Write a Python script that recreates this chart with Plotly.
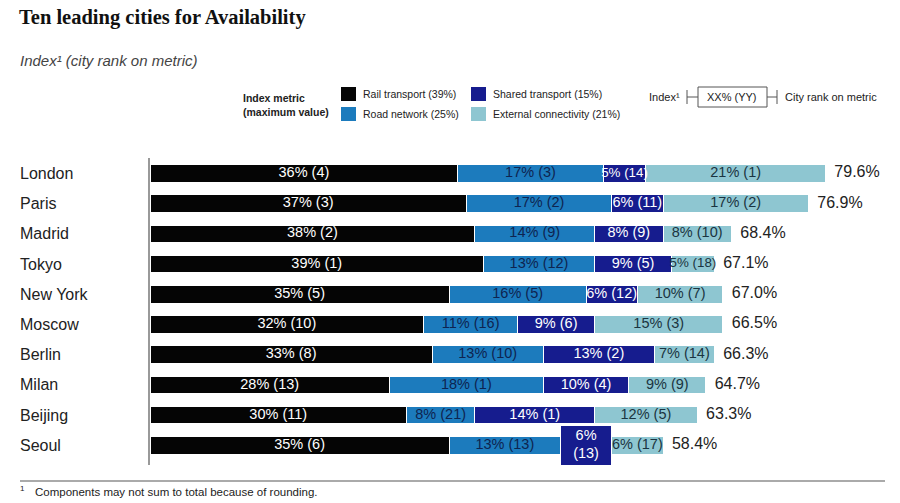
import plotly.graph_objects as go

# ---------------- data ----------------
cities = ["London", "Paris", "Madrid", "Tokyo", "New York", "Moscow",
          "Berlin", "Milan", "Beijing", "Seoul"]
rail = [36, 37, 38, 39, 35, 32, 33, 28, 30, 35]
rail_rank = [4, 3, 2, 1, 5, 10, 8, 13, 11, 6]
road = [17, 17, 14, 13, 16, 11, 13, 18, 8, 13]
road_rank = [3, 2, 9, 12, 5, 16, 10, 1, 21, 13]
shared = [5, 6, 8, 9, 6, 9, 13, 10, 14, 6]
shared_rank = [14, 11, 9, 5, 12, 6, 2, 4, 1, 13]
external = [21, 17, 8, 5, 10, 15, 7, 9, 12, 6]
external_rank = [1, 2, 10, 18, 7, 3, 14, 9, 5, 17]
totals = [79.6, 76.9, 68.4, 67.1, 67.0, 66.5, 66.3, 64.7, 63.3, 58.4]

metric_names = ["Rail transport (39%)", "Road network (25%)",
                "Shared transport (15%)", "External connectivity (21%)"]
wrapped_cells = [("Seoul", "shared")]  # label wraps onto two lines

# ---------------- style ----------------
C_RAIL = "#050505"
C_ROAD = "#1c7bbd"
C_SHARED = "#161c8e"
C_EXT = "#8ec6d1"
FONT = "Liberation Sans, Arial, sans-serif"
LABEL_SIZE = 14.5

W_PX, H_PX = 900, 503
L, T, R, B = 150, 158, 0, 38
PW, PH = W_PX - L - R, H_PX - T - B
PX_PER_UNIT = 8.55

CHAR_EM = {"%": 0.889, " ": 0.278, "(": 0.333, ")": 0.333}


def px(x):
    return (x - L) / PW


def py(y):
    return (T + PH - y) / PH


def labels(vals, ranks, key):
    out = []
    for c, v, r in zip(cities, vals, ranks):
        sep = "<br>" if (c, key) in wrapped_cells else " "
        out.append(f"{v}%{sep}({r})")
    return out


def fit_size(label, seg_units):
    line = max(label.split("<br>"), key=len)
    em = sum(CHAR_EM.get(ch, 0.556) for ch in line)
    return min(LABEL_SIZE, (seg_units * PX_PER_UNIT + 4) / em)


fig = go.Figure()

series = [
    ("rail", rail, rail_rank, C_RAIL, "white"),
    ("road", road, road_rank, C_ROAD, "#0e2450"),
    ("shared", shared, shared_rank, C_SHARED, "white"),
    ("external", external, external_rank, C_EXT, "#1a3440"),
]

# bars
for key, vals, ranks, col, tcol in series:
    widths = [1.3 if (c, key) in wrapped_cells else 0.58 for c in cities]
    fig.add_trace(go.Bar(
        y=cities, x=vals, orientation="h", name=key,
        marker=dict(color=col, line=dict(color="white", width=1)),
        width=widths, hoverinfo="skip", showlegend=False,
    ))

# segment labels drawn on top of all bars (centred in each segment)
base = [0] * len(cities)
for key, vals, ranks, col, tcol in series:
    mids = [b + v / 2 for b, v in zip(base, vals)]
    txt = labels(vals, ranks, key)
    sizes = [fit_size(t, v) for t, v in zip(txt, vals)]
    fig.add_trace(go.Scatter(
        y=cities, x=mids, mode="text", text=txt,
        textposition="middle center",
        textfont=dict(family=FONT, size=sizes, color=tcol),
        cliponaxis=False, hoverinfo="skip", showlegend=False,
    ))
    base = [b + v for b, v in zip(base, vals)]

# totals at the end of each bar
fig.add_trace(go.Scatter(
    y=cities, x=base, mode="text",
    text=[f"  {t:.1f}%" for t in totals], textposition="middle right",
    textfont=dict(family=FONT, size=16, color="#222"),
    cliponaxis=False, showlegend=False, hoverinfo="skip",
))

ann = []
shapes = []

# city names (left aligned)
for c in cities:
    ann.append(dict(x=px(18), xref="paper", y=c, yref="y", text=c,
                    xanchor="left", yanchor="middle", showarrow=False,
                    font=dict(family=FONT, size=16, color="#222")))

# title & subtitle
ann.append(dict(x=px(17), y=py(17), xref="paper", yref="paper",
                text="<b>Ten leading cities for Availability</b>",
                xanchor="left", yanchor="middle", showarrow=False,
                font=dict(family="Liberation Serif, serif", size=20.5, color="#111")))
ann.append(dict(x=px(18), y=py(60), xref="paper", yref="paper",
                text="<i>Index¹ (city rank on metric)</i>",
                xanchor="left", yanchor="middle", showarrow=False,
                font=dict(family=FONT, size=15, color="#444")))

# legend
ann.append(dict(x=px(241), y=py(105), xref="paper", yref="paper",
                text="<b>Index metric<br>(maximum value)</b>", align="left",
                xanchor="left", yanchor="middle", showarrow=False,
                font=dict(family=FONT, size=10.5, color="#222")))
leg_pos = [(341, 94), (341, 114), (471, 94), (471, 114)]
leg_cols = [C_RAIL, C_ROAD, C_SHARED, C_EXT]
for (lx, ly), col, name in zip(leg_pos, leg_cols, metric_names):
    shapes.append(dict(type="rect", xref="paper", yref="paper",
                       x0=px(lx), x1=px(lx + 15), y0=py(ly + 7), y1=py(ly - 7),
                       fillcolor=col, line=dict(width=0)))
    ann.append(dict(x=px(lx + 20), y=py(ly), xref="paper", yref="paper",
                    text=name, xanchor="left", yanchor="middle", showarrow=False,
                    font=dict(family=FONT, size=10.5, color="#222")))

# key: Index |-[XX% (YY)]-| City rank on metric
ann.append(dict(x=px(682), y=py(97), xref="paper", yref="paper",
                text="Index¹", xanchor="right", yanchor="middle", showarrow=False,
                font=dict(family=FONT, size=11, color="#222")))
ann.append(dict(x=px(732), y=py(97), xref="paper", yref="paper",
                text="XX% (YY)", xanchor="center", yanchor="middle", showarrow=False,
                font=dict(family=FONT, size=11, color="#222")))
ann.append(dict(x=px(783), y=py(97), xref="paper", yref="paper",
                text="City rank on metric", xanchor="left", yanchor="middle",
                showarrow=False, font=dict(family=FONT, size=11, color="#222")))
kl = dict(color="#555", width=1)
shapes += [
    dict(type="line", xref="paper", yref="paper", x0=px(687), x1=px(687),
         y0=py(90), y1=py(104), line=kl),
    dict(type="line", xref="paper", yref="paper", x0=px(687), x1=px(698),
         y0=py(97), y1=py(97), line=kl),
    dict(type="rect", xref="paper", yref="paper", x0=px(698), x1=px(767),
         y0=py(107), y1=py(87), line=kl, fillcolor="white"),
    dict(type="line", xref="paper", yref="paper", x0=px(767), x1=px(777),
         y0=py(97), y1=py(97), line=kl),
    dict(type="line", xref="paper", yref="paper", x0=px(777), x1=px(777),
         y0=py(90), y1=py(104), line=kl),
]

# footnote
shapes.append(dict(type="line", xref="paper", yref="paper", x0=px(20), x1=px(885),
                   y0=py(481), y1=py(481), line=dict(color="#aaa", width=2)))
ann.append(dict(x=px(18), y=py(488), xref="paper", yref="paper",
                text="1", xanchor="left", yanchor="middle", showarrow=False,
                font=dict(family=FONT, size=8, color="#222")))
ann.append(dict(x=px(33), y=py(492), xref="paper", yref="paper",
                text="Components may not sum to total because of rounding.",
                xanchor="left", yanchor="middle", showarrow=False,
                font=dict(family=FONT, size=11.5, color="#222")))

fig.update_layout(
    width=W_PX, height=H_PX,
    margin=dict(l=L, r=R, t=T, b=B, pad=0),
    barmode="stack", bargap=0.4,
    paper_bgcolor="white", plot_bgcolor="white",
    xaxis=dict(range=[0, PW / PX_PER_UNIT], visible=False, fixedrange=True),
    yaxis=dict(autorange="reversed", showticklabels=False, showgrid=False,
               zeroline=False, showline=True, linecolor="#999", linewidth=1.5,
               ticks="", fixedrange=True),
    annotations=ann, shapes=shapes,
    showlegend=False,
)

fig.write_html(
    "out.html",
    config={"displayModeBar": False},
    post_script="document.body.style.margin='0';document.body.style.overflow='hidden';",
)
